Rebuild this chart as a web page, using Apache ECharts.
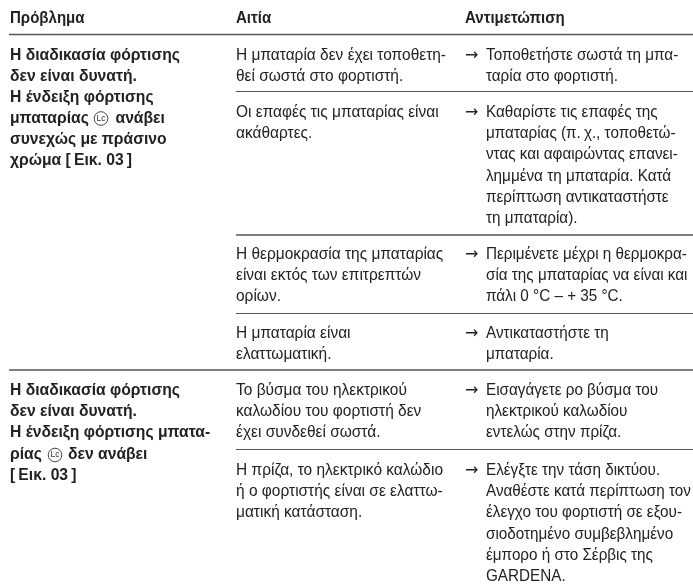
<!DOCTYPE html>
<html><head><meta charset="utf-8">
<style>html,body{margin:0;padding:0;background:#fff}#c{width:693px;height:585px}</style>
<script src="https://cdn.jsdelivr.net/npm/echarts@6/dist/echarts.min.js"></script>
</head><body><div id="c"></div>
<script>
// Column headers: [text, x, y]
const headers = [["Πρόβλημα",10,18],["Αιτία",236,18],["Αντιμετώπιση",465,18]];
// Bold problem pieces: [text, x, y]
const problems = [
["Η διαδικασία φόρτισης",10,55],["δεν είναι δυνατή.",10,76],["Η ένδειξη φόρτισης",10,97],["μπαταρίας",10,118],["ανάβει",115.5,118],["συνεχώς με πράσινο",10,139],["χρώμα [\u2009Εικ. 03\u2009]",10,160],
["Η διαδικασία φόρτισης",10,390],["δεν είναι δυνατή.",10,411],["Η ένδειξη φόρτισης μπατα-",10,432],["ρίας",10,454],["δεν ανάβει",68,454],["[\u2009Εικ. 03\u2009]",10,475]];
// Cause lines: [text, y]
const causes = [
["Η μπαταρία δεν έχει τοποθετη-",55],["θεί σωστά στο φορτιστή.",76],
["Οι επαφές τις μπαταρίας είναι",112],["ακάθαρτες.",133],
["Η θερμοκρασία της μπαταρίας",254],["είναι εκτός των επιτρεπτών",275],["ορίων.",296],
["Η μπαταρία είναι",333],["ελαττωματική.",354],
["Το βύσμα του ηλεκτρικού",390],["καλωδίου του φορτιστή δεν",411],["έχει συνδεθεί σωστά.",432],
["Η πρίζα, το ηλεκτρικό καλώδιο",470],["ή ο φορτιστής είναι σε ελαττω-",491],["ματική κατάσταση.",512]];
// Remedy lines: [text, y]
const remedies = [
["Τοποθετήστε σωστά τη μπα-",55],["ταρία στο φορτιστή.",76],
["Καθαρίστε τις επαφές της",112],["μπαταρίας (π.\u2009χ., τοποθετώ-",133],["ντας και αφαιρώντας επανει-",154],["λημμένα τη μπαταρία. Κατά",176],["περίπτωση αντικαταστήστε",197],["τη μπαταρία).",218],
["Περιμένετε μέχρι η θερμοκρα-",254],["σία της μπαταρίας να είναι και",275],["πάλι 0 °C – + 35 °C.",296],
["Αντικαταστήστε τη",333],["μπαταρία.",354],
["Εισαγάγετε ρο βύσμα του",390],["ηλεκτρικού καλωδίου",411],["εντελώς στην πρίζα.",432],
["Ελέγξτε την τάση δικτύου.",470],["Αναθέστε κατά περίπτωση τον",491],["έλεγχο του φορτιστή σε εξου-",512],["σιοδοτημένο συμβεβλημένο",534],["έμπορο ή στο Σέρβις της",555],["GARDENA.",576]];
// Arrow row positions
const arrows = [55,112,254,333,390,470];
// Circled "Lc" key marks: [x, y]
const badges = [[101,118.5],[55,455]];
// Rules: [x1, x2, y, width]
const rules = [[9,693,34.5,1.4],[236,693,91.5,1],[236,693,235,1.4],[236,693,313.5,1],[9,693,370,1.4],[236,693,449.5,1]];

const F = '"Liberation Sans",sans-serif';
const INK = '#222';
const textData = [];
headers.forEach(h=>textData.push({value:[h[1],h[2]],t:h[0],k:'h'}));
problems.forEach(p=>textData.push({value:[p[1],p[2]],t:p[0],k:'b'}));
causes.forEach(p=>textData.push({value:[236,p[1]],t:p[0],k:'r'}));
remedies.forEach(p=>textData.push({value:[486,p[1]],t:p[0],k:'m'}));
arrows.forEach(y=>textData.push({value:[465,y],t:'→',k:'a'}));
const KIND = {
  h:{font:'bold 16px '+F,sx:.94},
  b:{font:'bold 16px '+F,sx:.98},
  r:{font:'16px '+F,sx:.967},
  m:{font:'16px '+F,sx:.953},
  a:{font:'16px "DejaVu Sans"',sx:1}
};

const chart = echarts.init(document.getElementById('c'),null,{renderer:'canvas'});
chart.setOption({
  animation:false,
  grid:{left:0,top:0,right:0,bottom:0},
  xAxis:{type:'value',min:0,max:693,show:false},
  yAxis:{type:'value',min:0,max:585,inverse:true,show:false},
  series:[
   {type:'custom',coordinateSystem:'cartesian2d',silent:true,
    data:rules,
    encode:{x:[0,1],y:2},
    renderItem:(p,api)=>{
      const a=api.coord([api.value(0),api.value(2)]),b=api.coord([api.value(1),api.value(2)]);
      return {type:'line',shape:{x1:a[0],y1:a[1],x2:b[0],y2:b[1]},style:{stroke:'#555',lineWidth:api.value(3)}};
    }},
   {type:'custom',coordinateSystem:'cartesian2d',silent:true,
    data:badges,
    encode:{x:0,y:1},
    renderItem:(p,api)=>{
      const a=api.coord([api.value(0),api.value(1)]);
      return {type:'group',children:[
        {type:'circle',shape:{cx:a[0],cy:a[1],r:6.8},style:{fill:'#fff',stroke:'#333',lineWidth:.9}},
        {type:'text',x:a[0],y:a[1],style:{text:'Lc',fill:'#333',font:'8.5px '+F,textAlign:'center',textVerticalAlign:'middle'}}
      ]};
    }},
   {type:'custom',coordinateSystem:'cartesian2d',silent:true,
    data:textData,
    renderItem:(p,api)=>{
      const d=textData[p.dataIndex],K=KIND[d.k];
      const a=api.coord([d.value[0],d.value[1]]);
      return {type:'text',x:a[0],y:a[1]+1,scaleX:K.sx,style:{text:d.t,fill:INK,font:K.font,textAlign:'left',textVerticalAlign:'middle'}};
    }}
  ]
});
</script></body></html>
